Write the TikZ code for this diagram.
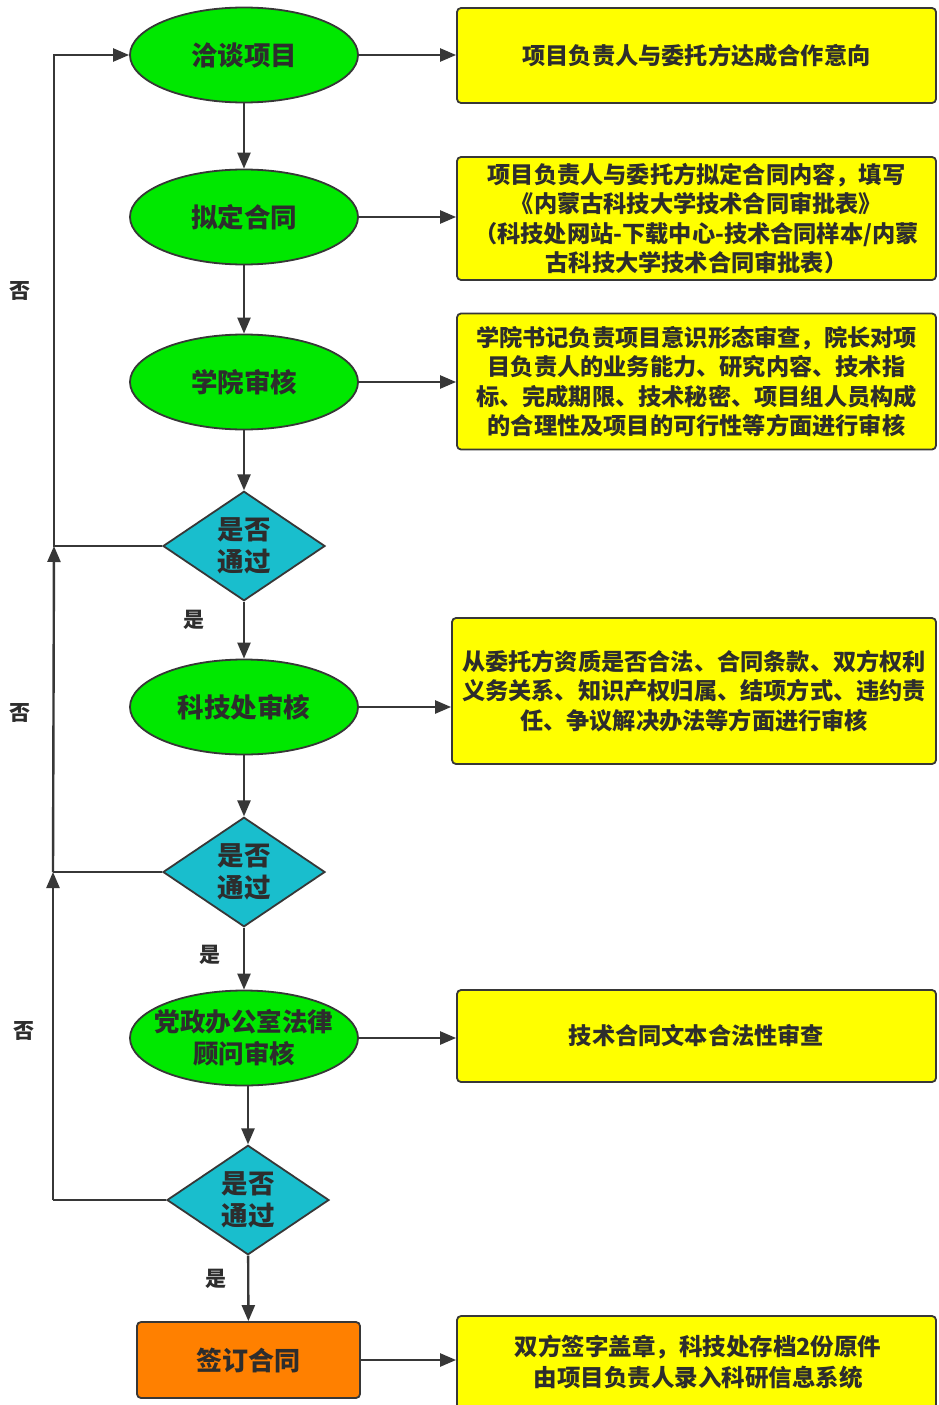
\documentclass[tikz,border=0pt]{standalone}
\usepackage{fontspec}
\setmainfont{Noto Sans CJK SC}
\usetikzlibrary{shapes.geometric,arrows.meta}
\definecolor{cgreen}{RGB}{0,232,0}
\definecolor{ccyan}{RGB}{25,190,205}
\definecolor{cyellow}{RGB}{255,255,0}
\definecolor{corange}{RGB}{255,128,0}
\definecolor{cline}{RGB}{55,55,55}
\definecolor{ctext}{RGB}{45,45,45}
\tikzset{
  every node/.style={font=\bfseries, text=ctext},
  ell/.style={ellipse, draw=cline, line width=1.8pt, fill=cgreen, minimum width=228pt, minimum height=95pt, inner sep=0pt},
  etext/.style={align=center, inner sep=0pt, font=\bfseries\fontsize{26.5pt}{32pt}\selectfont},
  dia/.style={diamond, draw=cline, line width=1.8pt, fill=ccyan, minimum width=162pt, minimum height=106pt, inner sep=0pt, align=center, font=\bfseries\fontsize{26.5pt}{32pt}\selectfont},
  ybox/.style={rectangle, rounded corners=4pt, draw=cline, line width=1.8pt, fill=cyellow, inner sep=0pt, align=center, font=\bfseries\fontsize{23.2pt}{29.5pt}\selectfont},
  obox/.style={rectangle, rounded corners=4pt, draw=cline, line width=1.8pt, fill=corange, inner sep=0pt, align=center, font=\bfseries\fontsize{26pt}{31pt}\selectfont},
  lbl/.style={font=\bfseries\fontsize{21pt}{24pt}\selectfont},
  conn/.style={draw=cline, line width=2.4pt, -{Triangle[length=16pt,width=13pt]}},
  plain/.style={draw=cline, line width=2.4pt},
}
\begin{document}
\begin{tikzpicture}[x=1pt,y=-1pt]
\useasboundingbox[fill=white] (0,0) rectangle (938,1405);
% main column
\node[ell] (E1) at (244,55) {};
\node[etext] (E1t) at (E1) {洽谈项目};
\node[ell] (E2) at (244,217) {};
\node[etext] (E2t) at (E2) {拟定合同};
\node[ell] (E3) at (244,382) {};
\node[etext] (E3t) at (E3) {学院审核};
\node[dia] (D1) at (244,546) {是否\\通过};
\node[ell] (E4) at (244,707) {};
\node[etext] (E4t) at (E4) {科技处审核};
\node[dia] (D2) at (244,872) {是否\\通过};
\node[ell] (E5) at (244,1038) {};
\node[etext, font=\bfseries\fontsize{25.5pt}{32pt}\selectfont] (E5t) at (E5) {党政办公室法律\\顾问审核};
\node[dia] (D3) at (248,1200) {是否\\通过};
\node[obox, minimum width=223pt, minimum height=76pt] (S) at (248.5,1360) {签订合同};
% yellow boxes
\node[ybox, minimum width=479pt, minimum height=95pt] (B1) at (696.5,55.5) {项目负责人与委托方达成合作意向};
\node[ybox, minimum width=479pt, minimum height=123pt] (B2) at (696.5,218.5) {项目负责人与委托方拟定合同内容，填写\\《内蒙古科技大学技术合同审批表》\\（科技处网站-下载中心-技术合同样本/内蒙\\古科技大学技术合同审批表）};
\node[ybox, minimum width=479pt, minimum height=136pt] (B3) at (696.5,381.5) {学院书记负责项目意识形态审查，院长对项\\目负责人的业务能力、研究内容、技术指\\标、完成期限、技术秘密、项目组人员构成\\的合理性及项目的可行性等方面进行审核};
\node[ybox, minimum width=484pt, minimum height=146pt] (B4) at (694,691) {从委托方资质是否合法、合同条款、双方权利\\义务关系、知识产权归属、结项方式、违约责\\任、争议解决办法等方面进行审核};
\node[ybox, minimum width=479pt, minimum height=92pt] (B5) at (696.5,1036) {技术合同文本合法性审查};
\node[ybox, minimum width=479pt, minimum height=100pt] (B6) at (696.5,1366) {};
\node[font=\bfseries\fontsize{23.5pt}{31pt}\selectfont, align=center] (B6t) at (698,1362) {双方签字盖章，科技处存档2份原件\\由项目负责人录入科研信息系统};
% vertical connectors
\draw[conn] (E1) -- (E2);
\draw[conn] (E2) -- (E3);
\draw[conn] (E3) -- (D1);
\draw[conn] (D1) -- (E4);
\draw[conn] (E4) -- (D2);
\draw[conn] (D2) -- (E5);
\draw[conn] (D3.north |- E5.south) -- (D3.north);
\draw[conn] (D3) -- (S);
% horizontal connectors
\draw[conn] (E1.east) -- (E1.east -| B1.west);
\draw[conn] (E2.east) -- (E2.east -| B2.west);
\draw[conn] (E3.east) -- (E3.east -| B3.west);
\draw[conn] (E4.east) -- (E4.east -| B4.west);
\draw[conn] (E5.east) -- (E5.east -| B5.west);
\draw[conn] (S.east) -- (S.east -| B6.west);
% feedback loops
\coordinate (L1) at (54,546);
\coordinate (L2) at (53,872);
\coordinate (L3) at (53,1200);
\draw[conn] (D1.west) -- (L1) -- (L1 |- E1.west) -- (E1.west);
\draw[plain] (D2.west) -- (L2);
\draw[conn] (L2) -- (L1);
\draw[plain] (D3.west) -- (L3);
\draw[conn] (L3) -- (L2);
% labels
\node[lbl] (n1) at (20,291) {否};
\node[lbl] (n2) at (20,713) {否};
\node[lbl] (n3) at (24,1031) {否};
\node[lbl] (y1) at (194,620) {是};
\node[lbl] (y2) at (210,955) {是};
\node[lbl] (y3) at (216,1279) {是};
\end{tikzpicture}
\end{document}
